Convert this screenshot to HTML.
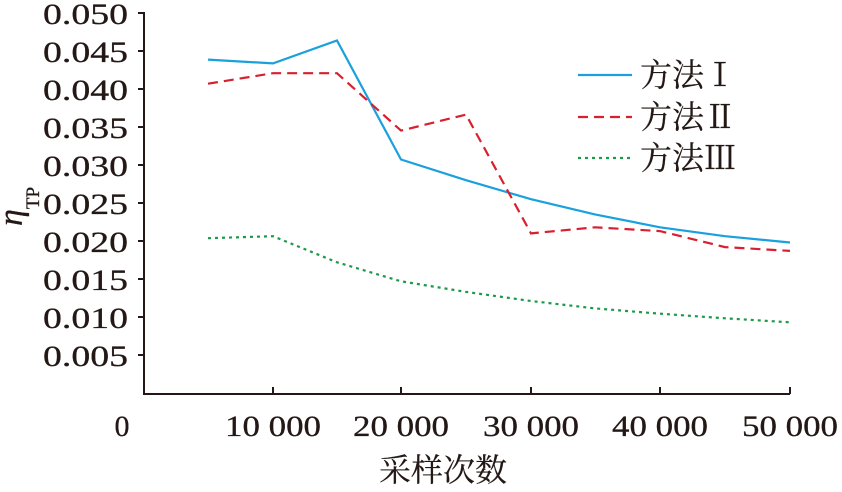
<!DOCTYPE html>
<html><head><meta charset="utf-8"><style>body{margin:0;background:#fff}</style></head><body>
<svg width="842" height="492" xmlns="http://www.w3.org/2000/svg" style="display:block">
<g font-family="Liberation Serif, Noto Serif CJK SC, serif" font-size="30" fill="#231815" stroke="#231815" stroke-width="0.3">
<g text-anchor="end">
<text x="128" y="24" textLength="85" lengthAdjust="spacingAndGlyphs">0.050</text>
<text x="128" y="62" textLength="85" lengthAdjust="spacingAndGlyphs">0.045</text>
<text x="128" y="100" textLength="85" lengthAdjust="spacingAndGlyphs">0.040</text>
<text x="128" y="138" textLength="85" lengthAdjust="spacingAndGlyphs">0.035</text>
<text x="128" y="176" textLength="85" lengthAdjust="spacingAndGlyphs">0.030</text>
<text x="128" y="214" textLength="85" lengthAdjust="spacingAndGlyphs">0.025</text>
<text x="128" y="252" textLength="85" lengthAdjust="spacingAndGlyphs">0.020</text>
<text x="128" y="290" textLength="85" lengthAdjust="spacingAndGlyphs">0.015</text>
<text x="128" y="328" textLength="85" lengthAdjust="spacingAndGlyphs">0.010</text>
<text x="128" y="366" textLength="85" lengthAdjust="spacingAndGlyphs">0.005</text>
</g>
<g text-anchor="middle">
<text x="122" y="436">0</text>
<text x="273" y="436" textLength="96" lengthAdjust="spacingAndGlyphs">10 000</text>
<text x="401" y="436" textLength="96" lengthAdjust="spacingAndGlyphs">20 000</text>
<text x="531" y="436" textLength="96" lengthAdjust="spacingAndGlyphs">30 000</text>
<text x="660" y="436" textLength="96" lengthAdjust="spacingAndGlyphs">40 000</text>
<text x="790" y="436" textLength="96" lengthAdjust="spacingAndGlyphs">50 000</text>
<text x="443" y="481" font-size="32" stroke-width="0.2">采样次数</text>
</g>
<text transform="translate(22,226) rotate(-90)" font-style="italic" font-size="34">η<tspan font-style="normal" font-size="19" dy="17">TP</tspan></text>
<g font-size="32" stroke-width="0.2">
<text x="640" y="86">方法Ⅰ</text>
<text x="640" y="128">方法Ⅱ</text>
<text x="640" y="169">方法Ⅲ</text>
</g>
</g>
<g stroke="#231815" stroke-width="2" fill="none">
<path d="M144 12V394H790"/>
<path d="M138 13H144M138 51H144M138 89H144M138 127H144M138 165H144M138 203H144M138 241H144M138 279H144M138 317H144M138 355H144"/>
<path d="M273 394V387M401 394V387M531 394V387M660 394V387M790 394V387"/>
</g>
<g fill="none" stroke-width="2.2">
<polyline stroke="#1aa0dc" points="208,59.6 273,63.4 337,40.5 401,159.5 466,180.2 531,199.2 595,214.4 660,227.3 725,236.2 790,242.5"/>
<polyline stroke="#d8202f" stroke-dasharray="10,6" points="208,83.7 273,73.2 337,73.2 401,130.6 466,114.6 531,233.4 595,227.3 660,231.1 725,247.1 790,250.9"/>
<polyline stroke="#1b9a4a" stroke-dasharray="3,4" points="208,238.2 273,236.2 337,262.3 401,281.3 466,291.9 531,301.0 595,308.4 660,313.7 725,318.3 790,322.3"/>
<line x1="578" y1="75" x2="632" y2="75" stroke="#1aa0dc"/>
<line x1="578" y1="117" x2="632" y2="117" stroke="#d8202f" stroke-dasharray="10,6"/>
<line x1="578" y1="158" x2="632" y2="158" stroke="#1b9a4a" stroke-dasharray="3,4"/>
</g>
</svg>
</body></html>
